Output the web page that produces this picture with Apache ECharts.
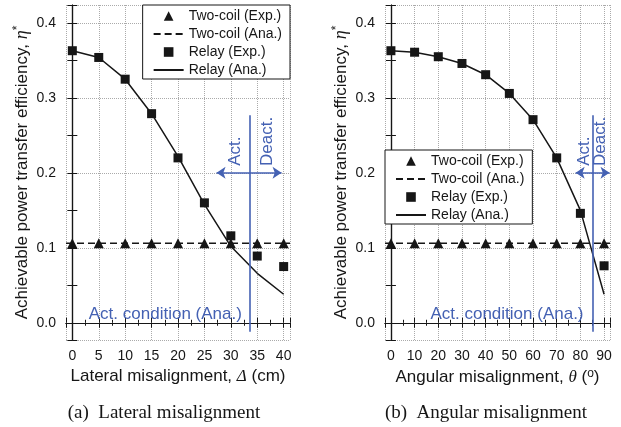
<!DOCTYPE html>
<html>
<head>
<meta charset="utf-8">
<script src="https://cdn.jsdelivr.net/npm/echarts@6/dist/echarts.min.js"></script>
<style>
  html, body { margin: 0; padding: 0; background: #fff; }
  #main { width: 621px; height: 427px; }
</style>
</head>
<body>
<div id="main"></div>
<script>
// (a) lateral misalignment, cm
const latX = [0, 5, 10, 15, 20, 25, 30, 35, 40];
const latTwoExp = [0.106, 0.106, 0.106, 0.106, 0.106, 0.106, 0.106, 0.106, 0.106];
const latRelayExp = [0.363, 0.354, 0.325, 0.279, 0.220, 0.160, 0.116, 0.089, 0.075];
const latRelayAna = [0.363, 0.354, 0.325, 0.279, 0.222, 0.158, 0.102, 0.066, 0.038];
const latRange = [-1.2, 41.2];
const latActX = 33.6;
const latArrow = [27.3, 39.6];
const latLabels = { act: [30.8, 0.229], deact: [36.9, 0.242], cond: [17.6, 0.011] };

// (b) angular misalignment, deg
const angX = [0, 10, 20, 30, 40, 50, 60, 70, 80, 90];
const angTwoExp = [0.106, 0.106, 0.106, 0.106, 0.106, 0.106, 0.106, 0.106, 0.106, 0.106];
const angRelayExp = [0.363, 0.361, 0.355, 0.346, 0.331, 0.306, 0.271, 0.220, 0.146, 0.076];
const angRelayAna = [0.363, 0.361, 0.355, 0.346, 0.331, 0.306, 0.271, 0.220, 0.150, 0.038];
const angRange = [-2.5, 92.5];
const angActX = 85.1;
const angArrow = [78, 92.3];
const angLabels = { act: [81.7, 0.229], deact: [88.6, 0.242], cond: [49, 0.011] };

const twoAna = 0.106;
const yRange = [-0.023, 0.424];
const legendNames = ['Two-coil (Exp.)', 'Two-coil (Ana.)', 'Relay (Exp.)', 'Relay (Ana.)'];

const FONT = 'Liberation Sans';
const BLUE = '#4461b3';
const INK = '#161616';

const zip = (xs, ys) => xs.map((x, i) => [x, ys[i]]);

const chart = echarts.init(document.getElementById('main'));

function xAxes(gridIndex, range, split, name) {
  const main = {
    type: 'value', gridIndex, min: range[0], max: range[1], splitNumber: split,
    name, nameLocation: 'middle', nameGap: 27,
    nameTextStyle: {
      fontFamily: FONT, fontSize: 17, color: INK,
      rich: {
        i: { fontFamily: 'Liberation Serif', fontStyle: 'italic', fontSize: 17, color: INK },
        s: { fontFamily: FONT, fontSize: 12, color: INK, padding: [0, 0, 7, 0] },
      },
    },
    axisLine: { lineStyle: { color: INK, width: 1.2 } },
    axisTick: { inside: true, length: 5, lineStyle: { color: INK } },
    minorTick: { show: true, splitNumber: 2, length: 3, lineStyle: { color: INK } },
    axisLabel: { fontFamily: FONT, fontSize: 14, color: INK, margin: 9, showMinLabel: false, showMaxLabel: false },
    splitLine: { show: true, lineStyle: { color: '#aaa', type: 'dotted', width: 1 } },
  };
  const top = {
    type: 'value', gridIndex, position: 'top', min: range[0], max: range[1], splitNumber: split,
    axisLine: { lineStyle: { color: INK, width: 1.2 } },
    axisTick: { inside: true, length: 5, lineStyle: { color: INK } },
    minorTick: { show: true, splitNumber: 2, length: 3, lineStyle: { color: INK } },
    axisLabel: { show: false },
    splitLine: { show: false },
  };
  return [main, top];
}

function yAxes(gridIndex) {
  const main = {
    type: 'value', gridIndex, min: yRange[0], max: yRange[1], splitNumber: 5,
    name: 'Achievable power transfer efficiency, {i|η}{s|*}',
    nameLocation: 'middle', nameGap: 34,
    nameTextStyle: {
      fontFamily: FONT, fontSize: 17, color: INK,
      rich: {
        i: { fontFamily: 'Liberation Serif', fontStyle: 'italic', fontSize: 18, color: INK },
        s: { fontFamily: FONT, fontSize: 12, color: INK, padding: [0, 0, 8, 0] },
      },
    },
    axisLine: { lineStyle: { color: INK, width: 1.2 } },
    axisTick: { inside: true, length: 5, lineStyle: { color: INK } },
    minorTick: { show: true, splitNumber: 2, length: 5, lineStyle: { color: INK } },
    axisLabel: {
      fontFamily: FONT, fontSize: 14, color: INK, margin: 10,
      showMinLabel: false, showMaxLabel: false,
      formatter: v => v.toFixed(1),
    },
    splitLine: { show: true, lineStyle: { color: '#aaa', type: 'dotted', width: 1 } },
  };
  const right = {
    type: 'value', gridIndex, position: 'right', min: yRange[0], max: yRange[1], splitNumber: 5,
    axisLine: { lineStyle: { color: INK, width: 1.2 } },
    axisTick: { inside: true, length: 5, lineStyle: { color: INK } },
    minorTick: { show: true, splitNumber: 2, length: 5, lineStyle: { color: INK } },
    axisLabel: { show: false },
    splitLine: { show: false },
  };
  return [main, right];
}

function plotSeries(xi, yi, xs, twoExp, relayExp, relayAna, range, actX, arrow, labels) {
  const blueText = (text, pos, rotate) => ({
    coord: pos, symbol: 'circle', symbolSize: 0,
    label: { show: true, position: 'inside', formatter: text, rotate, color: BLUE, fontFamily: FONT, fontSize: 17 },
  });
  return [
    {
      name: 'Two-coil (Ana.)', type: 'line', xAxisIndex: xi, yAxisIndex: yi,
      data: [[range[0], twoAna], [range[1], twoAna]],
      symbol: 'none', lineStyle: { color: INK, width: 1.5, type: [7, 4] },
      itemStyle: { color: INK, opacity: 0 },
      z: 3,
    },
    {
      name: 'Relay (Ana.)', type: 'line', xAxisIndex: xi, yAxisIndex: yi,
      data: zip(xs, relayAna),
      symbol: 'none', lineStyle: { color: INK, width: 1.5 },
      itemStyle: { color: INK, opacity: 0 },
      z: 3,
      markLine: {
        silent: true, animation: false,
        label: { show: false },
        lineStyle: { color: BLUE, width: 1.6, type: 'solid', opacity: 1 },
        itemStyle: { opacity: 1, color: BLUE },
        data: [
          [{ coord: [actX, 0.277], symbol: 'none' }, { coord: [actX, -0.012], symbol: 'none' }],
          [{ coord: [arrow[0], 0.2], symbol: 'arrow', symbolSize: 9 }, { coord: [arrow[1], 0.2], symbol: 'arrow', symbolSize: 9 }],
        ],
      },
      markPoint: {
        silent: true, animation: false,
        data: [
          blueText('Act.', labels.act, 90),
          blueText('Deact.', labels.deact, 90),
          blueText('Act. condition (Ana.)', labels.cond, 0),
        ],
      },
    },
    {
      name: 'Two-coil (Exp.)', type: 'line', xAxisIndex: xi, yAxisIndex: yi,
      data: zip(xs, twoExp),
      symbol: 'triangle', symbolSize: 10, showSymbol: true,
      lineStyle: { opacity: 0, width: 0 }, itemStyle: { color: INK },
      z: 4,
    },
    {
      name: 'Relay (Exp.)', type: 'line', xAxisIndex: xi, yAxisIndex: yi,
      data: zip(xs, relayExp),
      symbol: 'rect', symbolSize: 9, showSymbol: true,
      lineStyle: { opacity: 0, width: 0 }, itemStyle: { color: INK },
      z: 4,
    },
  ];
}

const legendBase = {
  orient: 'vertical', data: legendNames,
  backgroundColor: '#fff', borderColor: INK, borderWidth: 1,
  itemWidth: 30, itemHeight: 12, itemGap: 4, padding: [4, 8, 2, 10],
  textStyle: { fontFamily: FONT, fontSize: 14, color: INK },
  selectedMode: false,
};

const option = {
  animation: false,
  title: [
    { text: '(a)  Lateral misalignment', left: 159, top: 399, textAlign: 'center',
      textStyle: { fontFamily: 'Liberation Serif', fontSize: 19, fontWeight: 'normal', color: INK } },
    { text: '(b)  Angular misalignment', left: 481, top: 399, textAlign: 'center',
      textStyle: { fontFamily: 'Liberation Serif', fontSize: 19, fontWeight: 'normal', color: INK } },
  ],
  legend: [
    Object.assign({}, legendBase, { right: 331, top: 5 }),
    Object.assign({}, legendBase, { left: 385, top: 150 }),
  ],
  grid: [
    { left: 66, top: 5, width: 224, height: 335 },
    { left: 385, top: 5, width: 225, height: 335 },
  ],
  xAxis: [
    ...xAxes(0, latRange, 8, 'Lateral misalignment, {i|Δ} (cm)'),
    ...xAxes(1, angRange, 9, 'Angular misalignment, {i|θ} ({s|o})'),
  ],
  yAxis: [...yAxes(0), ...yAxes(1)],
  series: [
    ...plotSeries(0, 0, latX, latTwoExp, latRelayExp, latRelayAna, latRange, latActX, latArrow, latLabels),
    ...plotSeries(2, 2, angX, angTwoExp, angRelayExp, angRelayAna, angRange, angActX, angArrow, angLabels),
  ],
};

chart.setOption(option);
</script>
</body>
</html>
